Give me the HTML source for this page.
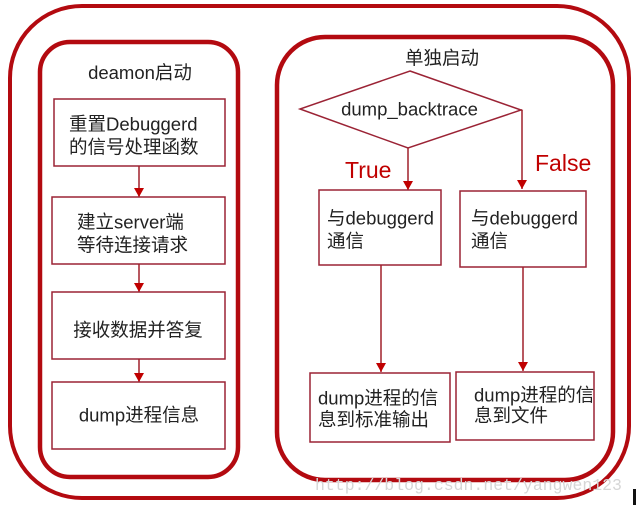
<!DOCTYPE html>
<html><head><meta charset="utf-8">
<style>
html,body{margin:0;padding:0;background:#fff;}
svg{display:block;}
text{font-family:"Liberation Sans","Noto Sans CJK SC",sans-serif;fill:#222;font-size:18.5px;}
</style></head>
<body>
<svg width="636" height="505" viewBox="0 0 636 505" xmlns="http://www.w3.org/2000/svg">
<defs>
<marker id="ah" markerWidth="10" markerHeight="10" refX="9" refY="5" orient="auto" markerUnits="userSpaceOnUse">
<path d="M0,0 L9,5 L0,10 Z" fill="#c00000"/>
</marker>
</defs>
<!-- outer -->
<rect x="10" y="6" width="619" height="492" rx="72" ry="72" fill="none" stroke="#b30a10" stroke-width="4"/>
<!-- left inner -->
<rect x="40" y="42" width="198" height="435" rx="30" ry="30" fill="none" stroke="#b30a10" stroke-width="4.5"/>
<!-- right inner -->
<rect x="277" y="37" width="336" height="443" rx="48" ry="48" fill="none" stroke="#b30a10" stroke-width="4.5"/>

<!-- left column -->
<text x="140" y="79" text-anchor="middle">deamon启动</text>
<rect x="54" y="99" width="171" height="67" fill="none" stroke="#9b2335" stroke-width="1.5"/>
<text x="69" y="130.5">重置Debuggerd</text>
<text x="69" y="153.5">的信号处理函数</text>
<line x1="139" y1="166" x2="139" y2="197" stroke="#a0202a" stroke-width="1.5" marker-end="url(#ah)"/>
<rect x="52" y="197" width="173" height="67" fill="none" stroke="#9b2335" stroke-width="1.5"/>
<text x="77" y="228.5">建立server端</text>
<text x="77" y="251.5">等待连接请求</text>
<line x1="139" y1="264" x2="139" y2="292" stroke="#a0202a" stroke-width="1.5" marker-end="url(#ah)"/>
<rect x="52" y="292" width="173" height="67" fill="none" stroke="#9b2335" stroke-width="1.5"/>
<text x="138" y="336.5" text-anchor="middle">接收数据并答复</text>
<line x1="139" y1="359" x2="139" y2="382" stroke="#a0202a" stroke-width="1.5" marker-end="url(#ah)"/>
<rect x="52" y="382" width="173" height="67" fill="none" stroke="#9b2335" stroke-width="1.5"/>
<text x="139" y="421.5" text-anchor="middle">dump进程信息</text>

<!-- right column -->
<text x="442" y="64.5" text-anchor="middle">单独启动</text>
<polygon points="410,71 521,110 408,148 300,109" fill="none" stroke="#9b2335" stroke-width="1.5"/>
<text x="409.5" y="115.5" text-anchor="middle">dump_backtrace</text>
<line x1="408" y1="148" x2="408" y2="190" stroke="#a0202a" stroke-width="1.5" marker-end="url(#ah)"/>
<line x1="521" y1="110" x2="522" y2="110" stroke="#a0202a" stroke-width="1.5"/>
<line x1="522" y1="110" x2="522" y2="189" stroke="#a0202a" stroke-width="1.5" marker-end="url(#ah)"/>
<text x="345" y="178" style="font-size:23px;fill:#c00000">True</text>
<text x="535" y="171" style="font-size:23px;fill:#c00000">False</text>

<rect x="319" y="190" width="122" height="75" fill="none" stroke="#9b2335" stroke-width="1.5"/>
<text x="327" y="224.5">与debuggerd</text>
<text x="327" y="247.5">通信</text>
<rect x="460" y="191" width="126" height="76" fill="none" stroke="#9b2335" stroke-width="1.5"/>
<text x="471" y="224.5">与debuggerd</text>
<text x="471" y="247.5">通信</text>

<line x1="381" y1="265" x2="381" y2="372" stroke="#a0202a" stroke-width="1.5" marker-end="url(#ah)"/>
<line x1="523" y1="267" x2="523" y2="371" stroke="#a0202a" stroke-width="1.5" marker-end="url(#ah)"/>

<rect x="310" y="373" width="140" height="69" fill="none" stroke="#9b2335" stroke-width="1.5"/>
<text x="318" y="404.5">dump进程的信</text>
<text x="318" y="426">息到标准输出</text>
<rect x="456" y="372" width="138" height="68" fill="none" stroke="#9b2335" stroke-width="1.5"/>
<text x="474" y="401.5">dump进程的信</text>
<text x="474" y="422">息到文件</text>

<!-- watermark -->
<text x="315" y="490" style="font-family:'Liberation Mono',monospace;font-size:16.5px;fill:#d6d6d6">http://blog.csdn.net/yangwen123</text>
<rect x="633" y="489" width="3" height="16" fill="#111"/>
</svg>
</body></html>
